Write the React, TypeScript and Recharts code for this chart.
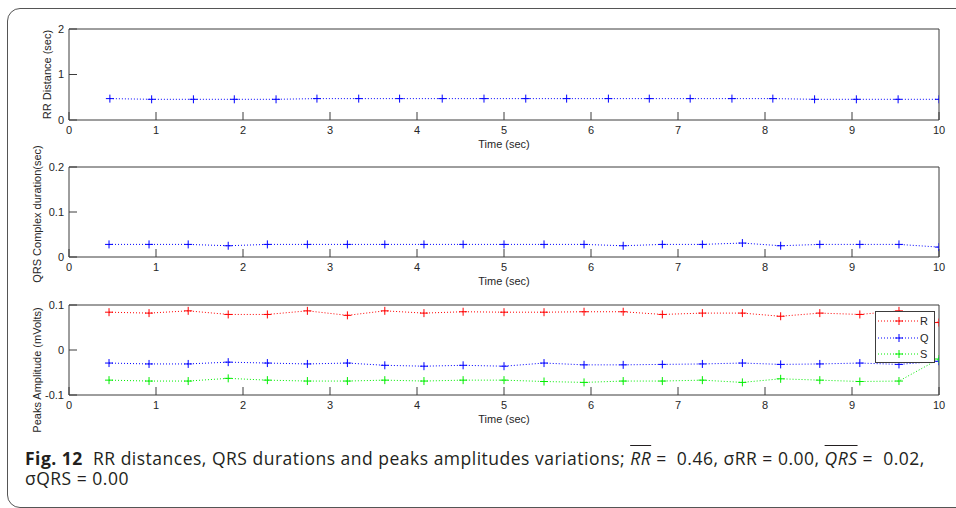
import React from 'react'
import { LineChart, Line, XAxis, YAxis, Legend } from 'recharts'

const X_TICKS = [0, 1, 2, 3, 4, 5, 6, 7, 8, 9, 10]
const RR_TICKS = [0, 1, 2]
const QRS_TICKS = [0, 0.1, 0.2]
const PEAK_TICKS = [-0.1, 0, 0.1]

// top panel: RR distances
const rrTime = [0.47, 0.95, 1.43, 1.9, 2.38, 2.85, 3.33, 3.8, 4.29, 4.77, 5.25, 5.72, 6.2, 6.67, 7.14, 7.62, 8.09, 8.57, 9.05, 9.53, 10.0]
const rrDistance = [0.47, 0.455, 0.455, 0.455, 0.455, 0.47, 0.47, 0.47, 0.47, 0.47, 0.47, 0.47, 0.47, 0.47, 0.47, 0.47, 0.47, 0.455, 0.455, 0.455, 0.455]

// middle + bottom panels share the beat times
const qrsTime = [0.46, 0.92, 1.37, 1.83, 2.28, 2.74, 3.2, 3.63, 4.08, 4.53, 5.0, 5.46, 5.92, 6.37, 6.82, 7.28, 7.74, 8.18, 8.63, 9.09, 9.54, 10.0]
const qrsDuration = [0.028, 0.028, 0.028, 0.025, 0.028, 0.028, 0.028, 0.028, 0.028, 0.028, 0.028, 0.028, 0.028, 0.025, 0.028, 0.028, 0.031, 0.025, 0.028, 0.028, 0.028, 0.022]
const rPeak = [0.084, 0.082, 0.087, 0.079, 0.079, 0.087, 0.077, 0.087, 0.082, 0.085, 0.084, 0.084, 0.085, 0.085, 0.079, 0.082, 0.082, 0.075, 0.082, 0.079, 0.087, 0.061]
const qPeak = [-0.029, -0.031, -0.031, -0.027, -0.029, -0.031, -0.029, -0.034, -0.036, -0.034, -0.036, -0.029, -0.033, -0.033, -0.032, -0.031, -0.029, -0.032, -0.031, -0.029, -0.032, -0.025]
const sPeak = [-0.067, -0.069, -0.069, -0.063, -0.067, -0.069, -0.069, -0.067, -0.069, -0.067, -0.067, -0.07, -0.072, -0.069, -0.069, -0.067, -0.072, -0.064, -0.067, -0.07, -0.069, -0.02]

const RED = '#ff0000'
const BLUE = '#0000ff'
const GREEN = '#00ee00'
const AXIS = '#3c3c3c'
const TEXT = '#262626'

const rrData = rrTime.map((t, i) => ({ t, rr: rrDistance[i] }))
const qrsData = qrsTime.map((t, i) => ({ t, qrs: qrsDuration[i] }))
const peakData = qrsTime.map((t, i) => ({ t, R: rPeak[i], Q: qPeak[i], S: sPeak[i] }))

const LEGEND_ITEMS = [
  { name: 'R', color: RED },
  { name: 'Q', color: BLUE },
  { name: 'S', color: GREEN },
]

const plus = (color: string) => (p: any) => {
  const { cx, cy, index } = p
  if (cx == null || cy == null) return <g key={index} />
  return (
    <path key={index} d={`M${cx - 4},${cy}H${cx + 4}M${cx},${cy - 4}V${cy + 4}`}
      stroke={color} strokeWidth={1} fill="none" />
  )
}

function PeakLegend() {
  return (
    <div style={{ width: 60, height: 52, border: `1px solid ${AXIS}`, background: '#fff', boxSizing: 'border-box', paddingTop: 1 }}>
      {LEGEND_ITEMS.map(s => (
        <div key={s.name} style={{ display: 'flex', alignItems: 'center', height: 16.5 }}>
          <svg width={44} height={10} style={{ display: 'block' }}>
            <line x1={2} x2={42} y1={5} y2={5} stroke={s.color} strokeDasharray="1 2" />
            <path d="M19,5H27M23,1V9" stroke={s.color} fill="none" />
          </svg>
          <span style={{ fontSize: 11, color: TEXT, lineHeight: '12px' }}>{s.name}</span>
        </div>
      ))}
    </div>
  )
}

interface SeriesDef { key: string; color: string }

interface PanelProps {
  top: number
  marginTop: number
  data: Record<string, number>[]
  series: SeriesDef[]
  yTicks: number[]
  yLabel: string
  labelLeft: number
  labelShift?: number
  legend?: boolean
}

function Panel({ top, marginTop, data, series, yTicks, yLabel, labelLeft, labelShift = 0, legend }: PanelProps) {
  const yDomain = [yTicks[0], yTicks[yTicks.length - 1]]
  return (
    <div style={{ position: 'absolute', left: 0, top }}>
      <LineChart width={956} height={170} data={data}
        margin={{ top: marginTop - 1, right: 16, bottom: 20, left: labelLeft }}>
        <XAxis dataKey="t" type="number" domain={[0, 10]} ticks={X_TICKS} allowDataOverflow
          height={30} tickSize={-8} tickMargin={14} stroke={AXIS}
          tick={{ fill: TEXT, fontSize: 11 }}
          label={{ value: 'Time (sec)', position: 'insideBottom', offset: 2, fill: TEXT, fontSize: 11 }} />
        <XAxis xAxisId="top" orientation="top" type="number" domain={[0, 10]} ticks={X_TICKS}
          height={1} tickSize={-8} tick={false} stroke={AXIS} />
        <YAxis type="number" domain={yDomain} ticks={yTicks} allowDataOverflow
          width={69 - labelLeft} tickSize={-8} tickMargin={13} stroke={AXIS}
          tick={{ fill: TEXT, fontSize: 11 }}
          label={{ value: yLabel, angle: -90, position: 'center', dy: labelShift, fill: TEXT, fontSize: 11 }} />
        <YAxis yAxisId="right" orientation="right" type="number" domain={yDomain} ticks={yTicks}
          width={1} tickSize={-8} tick={false} stroke={AXIS} />
        {series.map(s => (
          <Line key={s.key} name={s.key} dataKey={s.key} type="linear" stroke={s.color} strokeWidth={1}
            strokeDasharray="1 2" dot={plus(s.color)} activeDot={false} isAnimationActive={false} />
        ))}
        {legend && (
          <Legend layout="vertical" align="center" verticalAlign="middle" content={() => <PeakLegend />}
            wrapperStyle={{ position: 'absolute', left: 875, top: 36, width: 60, height: 52 }} />
        )}
      </LineChart>
    </div>
  )
}

const bar = { fontStyle: 'italic', textDecoration: 'overline' } as const

export default function App() {
  return (
    <div style={{ position: 'absolute', left: 0, top: 0, width: 956, height: 508, overflow: 'hidden', background: '#fff', fontFamily: '"Liberation Sans", Arial, sans-serif' }}>
      <div style={{ position: 'absolute', left: 7, top: 8, width: 1000, height: 498, border: '1.5px solid #555', borderRadius: 13 }} />
      <Panel top={0} marginTop={29} data={rrData} series={[{ key: 'rr', color: BLUE }]}
        yTicks={RR_TICKS} yLabel="RR Distance (sec)" labelLeft={25} />
      <Panel top={137} marginTop={30} data={qrsData} series={[{ key: 'qrs', color: BLUE }]}
        yTicks={QRS_TICKS} yLabel="QRS Complex duration(sec)" labelLeft={5} labelShift={2} />
      <Panel top={275} marginTop={30} data={peakData}
        series={[{ key: 'R', color: RED }, { key: 'Q', color: BLUE }, { key: 'S', color: GREEN }]}
        yTicks={PEAK_TICKS} yLabel="Peaks Amplitude (mVolts)" labelLeft={5} labelShift={20} legend />
      <div style={{ position: 'absolute', left: 25, top: 448, fontFamily: '"Open Sans", "Noto Sans", sans-serif', fontSize: 17.5, lineHeight: '20px', color: '#231f20', whiteSpace: 'nowrap', letterSpacing: 0.5 }}>
        <div><b>Fig. 12</b>&nbsp; RR distances, QRS durations and peaks amplitudes variations; <span style={bar}>RR</span> =&nbsp; 0.46, σRR = 0.00, <span style={bar}>QRS</span> =&nbsp; 0.02,</div>
        <div>σQRS = 0.00</div>
      </div>
    </div>
  )
}
